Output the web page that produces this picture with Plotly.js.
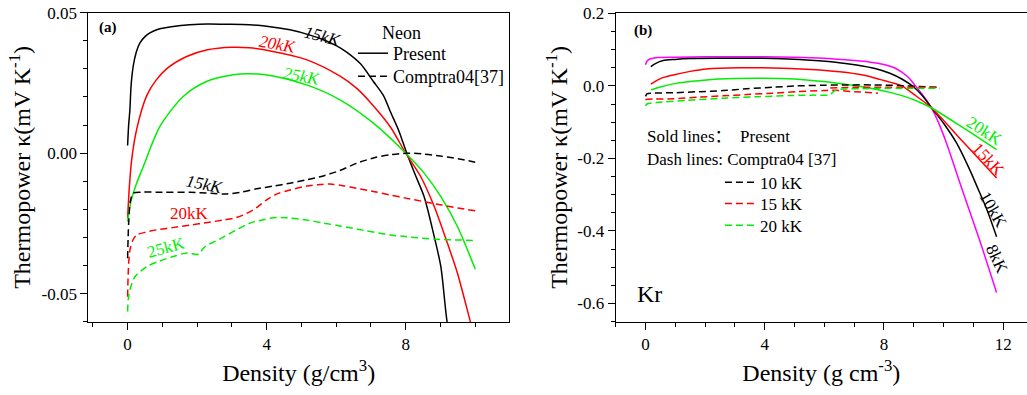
<!DOCTYPE html>
<html><head><meta charset="utf-8">
<script src="https://cdn.plot.ly/plotly-3.0.1.min.js"></script>
<style>html,body{margin:0;padding:0;background:#fff;} #chart{width:1027px;height:395px;}</style>
</head><body><div id="chart"></div>
<script>
// ---------- Panel (a): Neon ----------
const neonPresent15x = [0, 0.03, 0.066, 0.1, 0.16, 0.25, 0.35, 0.5, 0.64, 0.9, 1.31, 1.79, 2.3, 2.8, 3.5, 4.0, 4.67, 5.2, 5.63, 6.0, 6.3, 6.7, 7.07, 7.36, 7.55, 7.8, 8.03, 8.3, 8.53, 8.82, 9.01, 9.19, 9.3];
const neonPresent15y = [0.0027, 0.010, 0.0154, 0.024, 0.0309, 0.036, 0.0392, 0.0415, 0.0428, 0.0442, 0.0451, 0.0457, 0.0460, 0.0459, 0.0457, 0.0452, 0.0439, 0.0422, 0.0404, 0.0383, 0.0360, 0.0318, 0.0255, 0.0205, 0.0150, 0.0080, 0.0, -0.0085, -0.0155, -0.0297, -0.0404, -0.0600, -0.0660];
const neonPresent20x = [0, 0.05, 0.12, 0.26, 0.55, 0.82, 1.12, 1.7, 2.3, 3.0, 3.5, 4.18, 5.14, 6.1, 6.6, 7.06, 7.55, 8.0, 8.43, 8.82, 9.2, 9.49, 9.86, 9.95];
const neonPresent20y = [-0.0232, -0.012, -0.002, 0.0085, 0.0205, 0.026, 0.0300, 0.0344, 0.0368, 0.0377, 0.0375, 0.0362, 0.0333, 0.0275, 0.0230, 0.0170, 0.0095, 0.0, -0.0083, -0.0190, -0.0321, -0.0428, -0.0600, -0.0640];
const neonPresent25x = [0, 0.1, 0.26, 0.45, 0.93, 1.6, 2.27, 3.04, 3.52, 4.19, 5.15, 6.11, 7.07, 8.0, 8.53, 9.01, 9.49, 10.0];
const neonPresent25y = [-0.0244, -0.017, -0.0107, -0.0048, 0.0095, 0.0202, 0.0255, 0.0279, 0.0283, 0.0275, 0.0243, 0.0190, 0.0107, 0.0, -0.0071, -0.0155, -0.0262, -0.0413];

const neonComptra15x = [0, 0.03, 0.08, 0.16, 0.4, 1.0, 1.8, 2.4, 2.85, 3.3, 3.71, 4.2, 4.67, 5.15, 5.63, 6.1, 6.59, 7.1, 7.55, 8.03, 8.5, 8.99, 9.5, 10.0];
const neonComptra15y = [-0.0374, -0.025, -0.017, -0.0143, -0.0139, -0.0139, -0.0139, -0.0143, -0.0145, -0.0138, -0.0127, -0.0117, -0.0107, -0.0095, -0.0081, -0.0062, -0.0036, -0.0016, -0.0006, 0.0, -0.0003, -0.0010, -0.0020, -0.0032];
const neonComptra20x = [0, 0.02, 0.066, 0.15, 0.26, 0.5, 0.83, 1.3, 1.79, 2.3, 2.75, 3.1, 3.33, 3.7, 4.0, 4.3, 4.67, 5.15, 5.5, 5.82, 6.2, 6.59, 7.1, 7.55, 8.0, 8.5, 9.0, 9.5, 10.0];
const neonComptra20y = [-0.0511, -0.042, -0.0345, -0.031, -0.0291, -0.0282, -0.0273, -0.0265, -0.0256, -0.0247, -0.0238, -0.0230, -0.0220, -0.0195, -0.0166, -0.0145, -0.0131, -0.0117, -0.0112, -0.0110, -0.0116, -0.0125, -0.0137, -0.0149, -0.0160, -0.0172, -0.0184, -0.0195, -0.0205];
const neonComptra25x = [0, 0.02, 0.066, 0.21, 0.55, 0.9, 1.31, 1.7, 2.03, 2.22, 2.5, 2.75, 3.1, 3.52, 3.9, 4.19, 4.6, 5.15, 5.6, 6.11, 6.8, 7.55, 8.0, 8.5, 9.0, 9.5, 10.0];
const neonComptra25y = [-0.0564, -0.052, -0.0487, -0.044, -0.0404, -0.0385, -0.0368, -0.0355, -0.0360, -0.0333, -0.0315, -0.0299, -0.0275, -0.0249, -0.0237, -0.0230, -0.0230, -0.0238, -0.0248, -0.0259, -0.0275, -0.0291, -0.0297, -0.0303, -0.0307, -0.0309, -0.0311];

// ---------- Panel (b): Kr ----------
const krPresent8x = [0, 0.05, 0.15, 0.4, 1, 2, 3, 4, 5, 6, 7, 7.5, 8, 8.4, 8.8, 9.0, 9.3, 9.6, 9.8, 10.1, 10.6, 11.2, 11.78];
const krPresent8y = [0.058, 0.068, 0.074, 0.078, 0.079, 0.080, 0.080, 0.080, 0.079, 0.076, 0.070, 0.066, 0.059, 0.048, 0.025, 0.006, -0.025, -0.062, -0.095, -0.158, -0.280, -0.423, -0.570];
const krPresent10x = [0.18, 0.3, 0.59, 1.0, 1.49, 2.5, 3.72, 4.6, 5.4, 6.3, 7.08, 7.7, 8.2, 8.6, 8.98, 9.3, 9.6, 10.0, 10.44, 10.9, 11.11, 11.44, 11.78];
const krPresent10y = [0.053, 0.060, 0.0697, 0.073, 0.0752, 0.076, 0.0761, 0.075, 0.0716, 0.066, 0.0578, 0.048, 0.0349, 0.019, -0.0018, -0.028, -0.061, -0.103, -0.158, -0.235, -0.275, -0.338, -0.416];
const krPresent15x = [0.18, 0.5, 0.93, 1.5, 2.05, 3.16, 4.28, 5.4, 6.52, 7.3, 7.86, 8.6, 8.98, 9.6, 10.66, 11.78];
const krPresent15y = [0.005, 0.020, 0.030, 0.040, 0.0467, 0.050, 0.0495, 0.046, 0.039, 0.030, 0.018, 0.0, -0.022, -0.061, -0.155, -0.254];
const krPresent20x = [0.18, 0.5, 0.93, 1.5, 2.05, 3.0, 3.72, 4.5, 5.4, 6.2, 7.0, 7.64, 8.3, 8.76, 9.2, 9.6, 10.5, 11.78];
const krPresent20y = [-0.011, -0.003, 0.0055, 0.012, 0.0165, 0.020, 0.021, 0.020, 0.0165, 0.010, 0.001, -0.008, -0.020, -0.031, -0.045, -0.061, -0.107, -0.176];

const krComptra10x = [0, 0.05, 0.2, 0.93, 1.8, 2.6, 3.4, 4.28, 5.1, 5.96, 6.8, 7.64, 8.5, 9.2, 9.88];
const krComptra10y = [-0.029, -0.022, -0.020, -0.019, -0.016, -0.013, -0.008, -0.0037, 0.0, 0.0018, 0.0027, 0.0027, 0.001, -0.002, -0.0037];
const krComptra15x = [0, 0.05, 0.3, 0.93, 1.8, 2.6, 3.4, 4.28, 5.1, 5.96, 6.3, 7.0, 7.8, null, 6.2, 7.0, 8.2, 9.0, 9.88];
const krComptra15y = [-0.0385, -0.037, -0.036, -0.0357, -0.031, -0.0275, -0.024, -0.020, -0.016, -0.013, -0.012, -0.016, -0.020, null, -0.006, -0.004, -0.0037, -0.0037, -0.0037];
const krComptra20x = [0, 0.05, 0.37, 1.4, 2.6, 3.7, 4.84, 5.6, 6.18, 6.25, 6.4, 7.3, 8.2, 9.0, 9.88];
const krComptra20y = [-0.055, -0.050, -0.046, -0.040, -0.034, -0.030, -0.0266, -0.0255, -0.0247, -0.020, -0.011, -0.008, -0.0064, -0.0064, -0.0064];

// tick labels
const neonXTicks = [0, 4, 8];
const neonYTickVals = [-0.05, 0, 0.05];
const neonYTickText = ['-0.05', '0.00', '0.05'];
const krXTicks = [0, 4, 8, 12];
const krYTickVals = [-0.6, -0.4, -0.2, 0, 0.2];
const krYTickText = ['-0.6', '-0.4', '-0.2', '0.0', '0.2'];

const FONT = '"Liberation Serif", "Times New Roman", serif';
const FONT_CJK = '"Liberation Serif", "Noto Sans CJK SC", serif';
const BLACK = '#000000', RED = '#ff0000', GREEN = '#00ee00', MAGENTA = '#ff00ff';
const DASH = '7px,4px';

function tr(x, y, color, dash, xa, ya, name, legend) {
  return {
    type: 'scatter', mode: 'lines', x: x, y: y, xaxis: xa, yaxis: ya,
    line: {color: color, width: 1.5, dash: dash || 'solid', shape: 'spline', smoothing: 0.8},
    name: name || '', showlegend: !!legend, legend: legend || 'legend',
    connectgaps: false, hoverinfo: 'skip'
  };
}

const data = [
  tr(neonPresent15x, neonPresent15y, BLACK, null, 'x', 'y', 'Present', 'legend'),
  tr(neonPresent20x, neonPresent20y, RED, null, 'x', 'y'),
  tr(neonPresent25x, neonPresent25y, GREEN, null, 'x', 'y'),
  tr(neonComptra15x, neonComptra15y, BLACK, DASH, 'x', 'y', 'Comptra04[37]', 'legend3'),
  tr(neonComptra20x, neonComptra20y, RED, DASH, 'x', 'y'),
  tr(neonComptra25x, neonComptra25y, GREEN, DASH, 'x', 'y'),
  tr(krPresent8x, krPresent8y, MAGENTA, null, 'x2', 'y2'),
  tr(krPresent10x, krPresent10y, BLACK, null, 'x2', 'y2'),
  tr(krPresent15x, krPresent15y, RED, null, 'x2', 'y2'),
  tr(krPresent20x, krPresent20y, GREEN, null, 'x2', 'y2'),
  tr(krComptra10x, krComptra10y, BLACK, DASH, 'x2', 'y2', '10 kK', 'legend2'),
  tr(krComptra15x, krComptra15y, RED, DASH, 'x2', 'y2', '15 kK', 'legend4'),
  tr(krComptra20x, krComptra20y, GREEN, DASH, 'x2', 'y2', '20 kK', 'legend5')
];

const yDom = [0.1848, 0.9678];
const xRangeA = [-1.13, 10.97], yRangeA = [-0.0601, 0.05];
const xRangeB = [-1.0, 12.8], yRangeB = [-0.651, 0.2017];

function baseAxis(extra) {
  return Object.assign({
    showgrid: false, zeroline: false, showline: true, mirror: true,
    linecolor: BLACK, linewidth: 1, ticks: 'outside', ticklen: 7, tickwidth: 1, tickcolor: BLACK,
    tickfont: {family: FONT, size: 17, color: BLACK}, automargin: false, fixedrange: true
  }, extra);
}
function tickOnly(extra) {
  return Object.assign({
    showgrid: false, zeroline: false, showline: false, showticklabels: false,
    ticks: 'inside', ticklen: 7, tickwidth: 1, tickcolor: BLACK, automargin: false, fixedrange: true
  }, extra);
}
function legendAt(x, y, size) {
  return {x: x, y: y, xanchor: 'left', yanchor: 'top', bgcolor: 'rgba(0,0,0,0)',
    font: {family: FONT, size: size, color: BLACK}, tracegroupgap: 0, itemwidth: 30, traceorder: 'normal'};
}
const titleFont = {family: FONT, size: 24, color: BLACK};

const layout = {
  width: 1027, height: 395,
  margin: {l: 0, r: 0, t: 0, b: 0},
  paper_bgcolor: '#ffffff', plot_bgcolor: '#ffffff',
  font: {family: FONT, color: BLACK},
  hovermode: false,
  xaxis: baseAxis({domain: [0.086, 0.4956], anchor: 'y', range: xRangeA, tickmode: 'array', tickvals: neonXTicks,
    minor: {tickmode: 'linear', tick0: 0, dtick: 1, ticks: 'outside', ticklen: 4, tickcolor: BLACK},
    title: {text: 'Density (g/cm<sup>3</sup>)', font: titleFont, standoff: 10}}),
  yaxis: baseAxis({domain: yDom, anchor: 'x', range: yRangeA, tickmode: 'array', tickvals: neonYTickVals, ticktext: neonYTickText,
    minor: {tickmode: 'linear', tick0: 0, dtick: 0.01, ticks: 'outside', ticklen: 4, tickcolor: BLACK},
    title: {text: 'Thermopower κ(mV K<sup>-1</sup>)', font: titleFont, standoff: 4}}),
  xaxis3: tickOnly({overlaying: 'x', side: 'top', anchor: 'y', range: xRangeA, tickmode: 'array', tickvals: neonXTicks,
    minor: {tickmode: 'linear', tick0: 0, dtick: 1, ticks: 'inside', ticklen: 4, tickcolor: BLACK}}),
  yaxis3: tickOnly({overlaying: 'y', side: 'right', anchor: 'x', range: yRangeA, tickmode: 'array', tickvals: neonYTickVals,
    minor: {tickmode: 'linear', tick0: 0, dtick: 0.01, ticks: 'inside', ticklen: 4, tickcolor: BLACK}}),
  xaxis2: baseAxis({domain: [0.5995, 1.0], anchor: 'y2', range: xRangeB, tickmode: 'array', tickvals: krXTicks,
    minor: {tickmode: 'linear', tick0: 0, dtick: 1, ticks: 'outside', ticklen: 4, tickcolor: BLACK},
    title: {text: 'Density (g cm<sup>-3</sup>)', font: titleFont, standoff: 10}}),
  yaxis2: baseAxis({domain: yDom, anchor: 'x2', range: yRangeB, tickmode: 'array', tickvals: krYTickVals, ticktext: krYTickText,
    minor: {tickmode: 'linear', tick0: 0, dtick: 0.05, ticks: 'outside', ticklen: 4, tickcolor: BLACK},
    title: {text: 'Thermopower κ(mV K<sup>-1</sup>)', font: titleFont, standoff: 2}}),
  xaxis4: tickOnly({overlaying: 'x2', side: 'top', anchor: 'y2', range: xRangeB, tickmode: 'array', tickvals: krXTicks,
    minor: {tickmode: 'linear', tick0: 0, dtick: 1, ticks: 'inside', ticklen: 4, tickcolor: BLACK}}),
  legend: legendAt(0.3437, 0.9114, 18),
  legend3: legendAt(0.3437, 0.8532, 18),
  legend2: legendAt(0.701, 0.583, 17),
  legend4: legendAt(0.701, 0.5291, 17),
  legend5: legendAt(0.701, 0.4742, 17),
  annotations: [
    {xref: 'x', yref: 'y', x: -0.567, y: 0.0447, text: '<b>(a)</b>', showarrow: false, font: {family: FONT, size: 15, color: BLACK}},
    {xref: 'x', yref: 'y', x: 7.89, y: 0.0429, text: 'Neon', showarrow: false, font: {family: FONT, size: 18, color: BLACK}},
    {xref: 'x', yref: 'y', x: 5.62, y: 0.0414, text: '<i>15kK</i>', textangle: 15, showarrow: false, font: {family: FONT, size: 17, color: BLACK}},
    {xref: 'x', yref: 'y', x: 4.33, y: 0.0386, text: '<i>20kK</i>', textangle: 10, showarrow: false, font: {family: FONT, size: 17, color: RED}},
    {xref: 'x', yref: 'y', x: 5.02, y: 0.0272, text: '<i>25kK</i>', textangle: 10, showarrow: false, font: {family: FONT, size: 17, color: GREEN}},
    {xref: 'x', yref: 'y', x: 2.22, y: -0.0113, text: '<i>15kK</i>', textangle: 12, showarrow: false, font: {family: FONT, size: 17, color: BLACK}},
    {xref: 'x', yref: 'y', x: 1.79, y: -0.0213, text: '20kK', showarrow: false, font: {family: FONT, size: 17, color: RED}},
    {xref: 'x', yref: 'y', x: 1.13, y: -0.0337, text: '25kK', textangle: -15, showarrow: false, font: {family: FONT, size: 17, color: GREEN}},
    {xref: 'x2', yref: 'y2', x: -0.09, y: 0.154, text: '<b>(b)</b>', showarrow: false, font: {family: FONT, size: 15, color: BLACK}},
    {xref: 'x2', yref: 'y2', x: 0.144, y: -0.575, text: 'Kr', showarrow: false, font: {family: FONT, size: 24, color: BLACK}},
    {xref: 'x2', yref: 'y2', x: -0.02, y: -0.139, xanchor: 'left', text: 'Sold lines：\u00a0\u00a0Present', showarrow: false, font: {family: FONT_CJK, size: 17, color: BLACK}},
    {xref: 'x2', yref: 'y2', x: -0.02, y: -0.203, xanchor: 'left', text: 'Dash lines: Comptra04 [37]', showarrow: false, font: {family: FONT, size: 17, color: BLACK}},
    {xref: 'x2', yref: 'y2', x: 11.39, y: -0.126, text: '20kK', textangle: 33, showarrow: false, font: {family: FONT, size: 17, color: GREEN}},
    {xref: 'x2', yref: 'y2', x: 11.5, y: -0.203, text: '15kK', textangle: 47, showarrow: false, font: {family: FONT, size: 17, color: RED}},
    {xref: 'x2', yref: 'y2', x: 11.66, y: -0.341, text: '10kK', textangle: 60, showarrow: false, font: {family: FONT, size: 17, color: BLACK}},
    {xref: 'x2', yref: 'y2', x: 11.8, y: -0.478, text: '8kK', textangle: 65, showarrow: false, font: {family: FONT, size: 17, color: BLACK}}
  ]
};

Plotly.newPlot('chart', data, layout, {displayModeBar: false, staticPlot: true});
</script></body></html>
